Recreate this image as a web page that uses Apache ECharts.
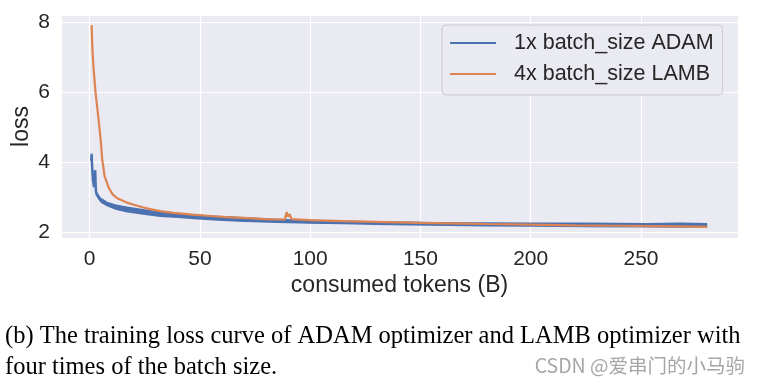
<!DOCTYPE html>
<html>
<head>
<meta charset="utf-8">
<script src="https://cdn.jsdelivr.net/npm/echarts@6/dist/echarts.min.js"></script>
<style>
html,body{margin:0;padding:0;background:#ffffff;}
#chart{width:764px;height:382px;}
</style>
</head>
<body>
<div id="chart"></div>
<script>
// Series names
const seriesNames = ['1x batch_size ADAM', '4x batch_size LAMB'];

// Blue: 1x batch_size ADAM (consumed tokens in B, loss) - centre of the noisy curve
const adamX = [0.7, 0.9, 1.1, 1.5, 2.0, 2.3, 2.5, 2.8, 3.2, 4.5, 6, 8, 12, 17, 25, 32, 47, 70, 100, 130, 163, 200, 253, 280];
const adamY = [4.05, 4.25, 3.9, 3.5, 3.3, 3.25, 3.78, 3.2, 3.08, 2.95, 2.86, 2.81, 2.72, 2.65, 2.58, 2.52, 2.45, 2.37, 2.3, 2.27, 2.24, 2.22, 2.2, 2.2];
// Spread of the noisy ADAM curve (upper / lower edge of the band)
const adamBandX = [3.5, 5, 8, 12, 17, 25, 32, 40, 47, 58, 70, 85, 100, 115, 130, 145, 163, 180, 200, 225, 253, 268, 280];
const adamBandHi = [3.15, 3.0, 2.88, 2.8, 2.74, 2.66, 2.6, 2.56, 2.52, 2.48, 2.44, 2.39, 2.36, 2.34, 2.32, 2.31, 2.29, 2.29, 2.28, 2.28, 2.27, 2.28, 2.27];
const adamBandLo = [3.0, 2.85, 2.74, 2.64, 2.57, 2.5, 2.44, 2.41, 2.38, 2.33, 2.3, 2.27, 2.25, 2.23, 2.21, 2.2, 2.18, 2.17, 2.16, 2.15, 2.14, 2.13, 2.14];

// Orange: 4x batch_size LAMB
const lambX = [0.9, 1.2, 1.7, 2.7, 3.9, 5.0, 5.7, 6.8, 8.7, 10.5, 12.5, 16.6, 20, 24, 28, 32, 38, 46.7, 55, 62, 72, 80, 88.5, 89.3, 89.9, 90.7, 91.5, 100, 115, 130, 150, 163, 180, 200, 220, 240, 255, 268, 280];
const lambY = [7.93, 7.3, 6.74, 5.98, 5.31, 4.65, 4.08, 3.6, 3.27, 3.08, 2.98, 2.86, 2.79, 2.72, 2.66, 2.61, 2.56, 2.51, 2.47, 2.44, 2.41, 2.38, 2.37, 2.58, 2.45, 2.52, 2.38, 2.35, 2.32, 2.3, 2.27, 2.26, 2.24, 2.22, 2.2, 2.19, 2.18, 2.17, 2.16];

// Axis tick values shown
const xTicks = [0, 50, 100, 150, 200, 250];
const yTicks = [2, 4, 6, 8];

const captionLines = ['(b) The training loss curve of ADAM optimizer and LAMB optimizer with', 'four times of the batch size.'];
const watermark = 'CSDN @爱串门的小马驹';

const zip = (xs, ys) => xs.map((x, i) => [x, ys[i]]);

const chart = echarts.init(document.getElementById('chart'), null, {renderer: 'canvas'});
const sans = 'Liberation Sans, Arial, sans-serif';
chart.setOption({
  animation: false,
  backgroundColor: '#ffffff',
  grid: {left: 61, right: 26, top: 15, bottom: 144, show: true, backgroundColor: '#EAEAF2', borderWidth: 0,
    containLabel: false, outerBoundsMode: 'none'},
  xAxis: {
    type: 'value', min: -13, max: 294, splitNumber: 5,
    name: 'consumed tokens (B)', nameLocation: 'middle', nameGap: 36, nameMoveOverlap: false,
    nameTextStyle: {fontFamily: sans, fontSize: 23, color: '#262626'},
    axisLine: {show: false}, axisTick: {show: false},
    axisLabel: {fontFamily: sans, fontSize: 21, color: '#262626', margin: 11,
      formatter: v => xTicks.includes(v) ? String(v) : ''},
    splitLine: {show: true, lineStyle: {color: '#ffffff', width: 1.2}}
  },
  yAxis: {
    type: 'value', min: 1.84, max: 8.22, splitNumber: 3,
    name: 'loss', nameLocation: 'middle', nameGap: 28, nameMoveOverlap: false,
    nameTextStyle: {fontFamily: sans, fontSize: 23, color: '#262626'},
    axisLine: {show: false}, axisTick: {show: false},
    axisLabel: {fontFamily: sans, fontSize: 21, color: '#262626', margin: 11,
      formatter: v => yTicks.includes(v) ? String(v) : ''},
    splitLine: {show: true, lineStyle: {color: '#ffffff', width: 1.2}}
  },
  legend: {
    orient: 'vertical', left: 442, top: 25,
    data: seriesNames,
    icon: 'rect',
    itemWidth: 46, itemHeight: 2, itemGap: 9,
    padding: [7, 9, 10, 8],
    backgroundColor: 'rgba(234,234,242,0.85)', borderColor: '#cccccc', borderWidth: 1, borderRadius: 4,
    formatter: n => '{a|' + n + '}',
    textStyle: {fontFamily: sans, fontSize: 21.5, color: '#262626',
      rich: {a: {fontFamily: sans, fontSize: 21.5, color: '#262626', lineHeight: 22, padding: [0, 0, 0, 13]}}}
  },
  series: [
    {name: 'adamBand', type: 'custom', data: [0], z: 2, clip: true, silent: true,
      renderItem: (params, api) => {
        if (params.dataIndex !== 0) return null;
        const pts = adamBandX.map((x, i) => api.coord([x, adamBandHi[i]]));
        for (let i = adamBandX.length - 1; i >= 0; i--) pts.push(api.coord([adamBandX[i], adamBandLo[i]]));
        return {type: 'polygon', shape: {points: pts}, style: {fill: '#4C72B0'}};
      }},
    {name: seriesNames[0], type: 'line', data: zip(adamX, adamY), showSymbol: false, symbol: 'none',
      lineStyle: {color: '#4C72B0', width: 2.5}, itemStyle: {color: '#4C72B0'}, z: 2},
    {name: seriesNames[1], type: 'line', data: zip(lambX, lambY), showSymbol: false, symbol: 'none',
      lineStyle: {color: '#DD8452', width: 2.2}, itemStyle: {color: '#DD8452'}, z: 3}
  ],
  graphic: [
    {type: 'text', left: 5, top: 324, style: {text: captionLines[0], font: '24.5px "Liberation Serif", "Times New Roman", serif', fill: '#000000'}},
    {type: 'text', left: 5, top: 355, style: {text: captionLines[1], font: '24.5px "Liberation Serif", "Times New Roman", serif', fill: '#000000'}},
    {type: 'text', right: 19, top: 356, style: {text: watermark, font: '19.5px "Noto Sans CJK SC", sans-serif', fill: '#a6a6a6'}}
  ]
});
</script>
</body>
</html>
